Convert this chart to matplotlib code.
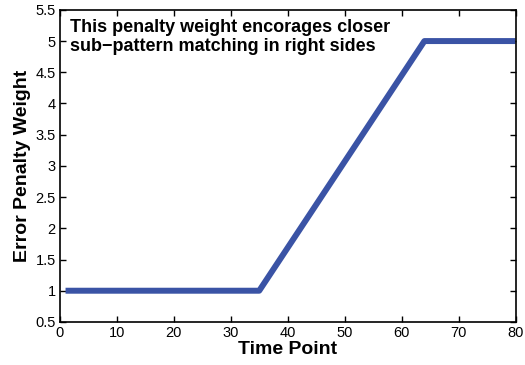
import matplotlib
matplotlib.use("Agg")
import matplotlib.pyplot as plt

plt.rcParams['font.family'] = ['Liberation Sans', 'DejaVu Sans']

# Данные
time_pts = [1, 35, 64, 80]
penalty = [1, 1, 5, 5]
x_ticks = [0, 10, 20, 30, 40, 50, 60, 70, 80]
y_ticks = [0.5, 1, 1.5, 2, 2.5, 3, 3.5, 4, 4.5, 5, 5.5]

fig = plt.figure(figsize=(5.25, 3.65), dpi=100)
ax = fig.add_axes([0.114, 0.118, 0.868, 0.855])

ax.plot(time_pts, penalty, color='#3a53a5', linewidth=4.3, solid_capstyle='butt')

ax.set_xlim(0, 80)
ax.set_ylim(0.5, 5.5)
ax.set_xticks(x_ticks)
ax.set_yticks(y_ticks)
ax.set_yticklabels([('%g' % v) for v in y_ticks])
ax.tick_params(direction='in', top=True, right=True, labelsize=10.5, length=4, width=1, pad=3)
for s in ax.spines.values():
    s.set_linewidth(1.2)

ax.set_xlabel("Time Point", fontsize=14, fontweight='bold', labelpad=1)
ax.set_ylabel("Error Penalty Weight", fontsize=14, fontweight='bold', labelpad=3)

ax.text(1.7, 5.36, "This penalty weight encorages closer\nsub\u2212pattern matching in right sides",
        fontsize=13, fontweight='bold', va='top', ha='left', linespacing=1.15)

fig.savefig("out.png", dpi=100)
